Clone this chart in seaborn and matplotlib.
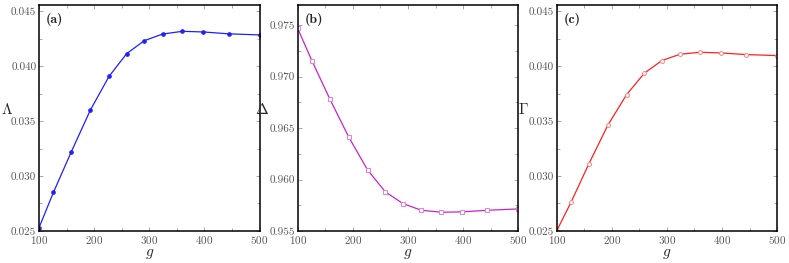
import matplotlib
matplotlib.use("Agg")
import matplotlib.pyplot as plt
from matplotlib.ticker import FormatStrFormatter, MultipleLocator
import numpy as np
import pandas as pd
import seaborn as sns

# values
g = [100, 126, 158, 193, 227, 259, 291, 324, 360, 398, 444, 500]
lam = [0.02530, 0.02850, 0.03215, 0.03600, 0.03908, 0.04115, 0.04233, 0.04293, 0.04318, 0.04312, 0.04295, 0.04285]
delta = [0.97470, 0.97153, 0.96786, 0.96409, 0.96091, 0.95880, 0.95766, 0.95701, 0.95682, 0.95685, 0.95701, 0.95714]
gam = [0.02500, 0.02760, 0.03106, 0.03464, 0.03742, 0.03936, 0.04052, 0.04109, 0.04127, 0.04121, 0.04106, 0.04097]

df = pd.DataFrame({"g": g, "Lambda": lam, "Delta": delta, "Gamma": gam})

sns.set_theme(style="ticks")
plt.rcParams["mathtext.fontset"] = "cm"
plt.rcParams["font.family"] = ["cmr10", "DejaVu Serif"]
plt.rcParams["axes.formatter.use_mathtext"] = True

fig = plt.figure(figsize=(7.89, 2.63), dpi=100)

panels = [
    # column, ylabel, tag, ylim, line colour, marker, face, edge, size
    ("Lambda", r"$\Lambda$", "(a)", (0.025, 0.0456), "#1f1fff", "o", "#1f1fff", "#1f1fff", 2.6),
    ("Delta", r"$\Delta$", "(b)", (0.955, 0.977), "#cc22cc", "s", "white", "#e080e0", 2.4),
    ("Gamma", r"$\Gamma$", "(c)", (0.025, 0.0456), "#ff2020", "o", "white", "#ff8080", 2.8),
]
lefts = [0.0495, 0.3773, 0.7055]
width = 0.2795
ylab_x = [-0.145, -0.16, -0.15]

for left, lx, (col, ylab, tag, ylim, lc, mk, mfc, mec, ms) in zip(lefts, ylab_x, panels):
    ax = fig.add_axes([left, 0.122, width, 0.860])
    sns.lineplot(data=df, x="g", y=col, ax=ax, color=lc, linewidth=0.9,
                 marker=mk, markersize=ms, markerfacecolor=mfc,
                 markeredgecolor=mec, markeredgewidth=0.7)
    ax.set_xlim(100, 500)
    ax.set_ylim(*ylim)
    ax.xaxis.set_major_locator(MultipleLocator(100))
    ax.xaxis.set_minor_locator(MultipleLocator(50))
    ax.yaxis.set_major_locator(MultipleLocator(0.005))
    ax.yaxis.set_minor_locator(MultipleLocator(0.0025))
    ax.yaxis.set_major_formatter(FormatStrFormatter("%.3f"))
    ax.tick_params(which="both", direction="in", top=True, right=True,
                   colors="#999999", labelcolor="#555555", labelsize=8, pad=2)
    ax.tick_params(which="major", length=3, width=0.6)
    ax.tick_params(which="minor", length=2, width=0.6)
    for s in ax.spines.values():
        s.set_color("black")
        s.set_linewidth(1.1)
    ax.set_xlabel(r"$g$", fontsize=11, labelpad=1)
    ax.set_ylabel(ylab, fontsize=11, rotation=0, ha="center", va="center")
    ax.yaxis.set_label_coords(lx, 0.535)
    ax.text(0.03, 0.965, tag, transform=ax.transAxes, fontsize=10,
            family=["cmb10", "DejaVu Serif"], va="top", ha="left")

fig.savefig("out.png", dpi=100)
